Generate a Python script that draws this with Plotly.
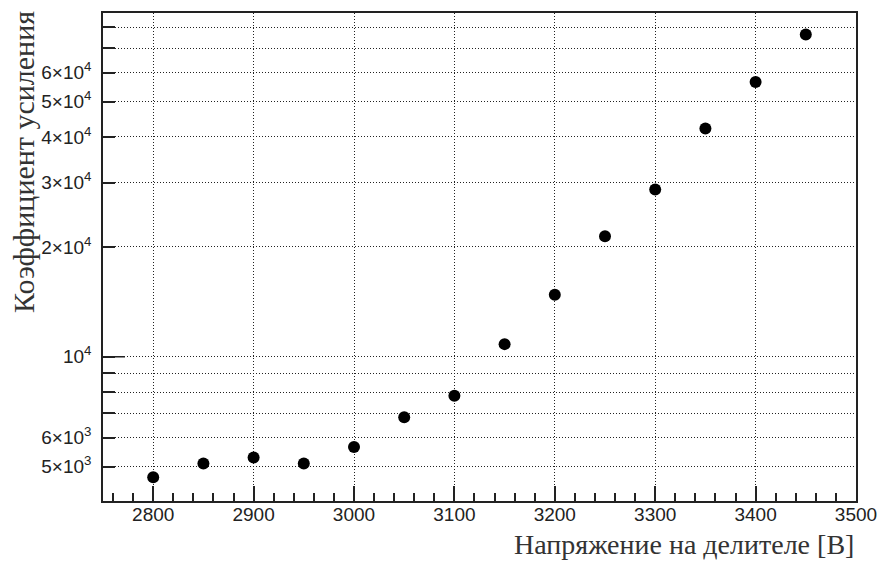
import plotly.graph_objects as go

# Divider voltage [V] and measured gain
voltage = [2800, 2850, 2900, 2950, 3000, 3050, 3100, 3150, 3200, 3250, 3300, 3350, 3400, 3450]
gain = [4680, 5100, 5300, 5100, 5660, 6830, 7820, 10830, 14780, 21390, 28710, 42170, 56570, 76270]

# Log-axis ticks (labelled and unlabelled)
y_tick_vals = [5000, 6000, 7000, 8000, 9000, 10000, 20000, 30000, 40000, 50000, 60000, 70000, 80000]
y_tick_text = ["5×10<sup>3</sup>", "6×10<sup>3</sup>", "", "", "", "10<sup>4</sup>",
               "2×10<sup>4</sup>", "3×10<sup>4</sup>", "4×10<sup>4</sup>", "5×10<sup>4</sup>",
               "6×10<sup>4</sup>", "", ""]

x_title = "Напряжение на делителе [В]"
y_title = "Коэффициент усиления"

W, H = 879, 561
ML, MR, MT, MB = 103, 23, 13, 60
plot_w = W - ML - MR

fig = go.Figure()
fig.add_trace(go.Scatter(
    x=voltage, y=gain, mode="markers",
    marker=dict(color="black", size=12, line=dict(width=0)),
    showlegend=False,
))

axis_common = dict(
    showline=True, mirror=True, linecolor="#222", linewidth=1.5,
    ticks="inside", tickcolor="#222", tickwidth=1.5,
    showgrid=True, gridcolor="#222", gridwidth=1, griddash="1px,2px",
    zeroline=False, automargin=False,
    tickfont=dict(family="Liberation Sans, Arial, sans-serif", size=19, color="#222"),
)

fig.update_xaxes(
    **axis_common,
    range=[2750, 3500], dtick=100, tick0=2800, ticklen=15,
    minor=dict(dtick=20, tick0=2800, ticks="inside", ticklen=8,
               tickcolor="#222", tickwidth=1.5, showgrid=False),
    ticklabelstandoff=-5,
)
fig.update_yaxes(
    **axis_common,
    type="log", range=[3.605, 4.9415],
    tickmode="array", tickvals=y_tick_vals, ticktext=y_tick_text, ticklen=12,
    ticklabelstandoff=6,
)

# Longer major tick at 10^4
fig.add_shape(type="line", xref="paper", yref="y",
              x0=0, x1=22 / plot_w, y0=10000, y1=10000,
              line=dict(color="#222", width=1.5))

serif = "Liberation Serif, Times New Roman, serif"
fig.add_annotation(text=x_title, xref="paper", yref="paper", x=1, y=0,
                   xanchor="right", yanchor="top", yshift=-26,
                   showarrow=False, font=dict(family=serif, size=28, color="#333"))
fig.add_annotation(text=y_title, xref="paper", yref="paper", x=0, y=1,
                   xanchor="center", yanchor="top", xshift=-80, yshift=4,
                   textangle=-90, showarrow=False,
                   font=dict(family=serif, size=30, color="#333"))

fig.update_layout(
    width=W, height=H,
    margin=dict(l=ML, r=MR, t=MT, b=MB),
    paper_bgcolor="white", plot_bgcolor="white",
)

fig.write_html("out.html")
